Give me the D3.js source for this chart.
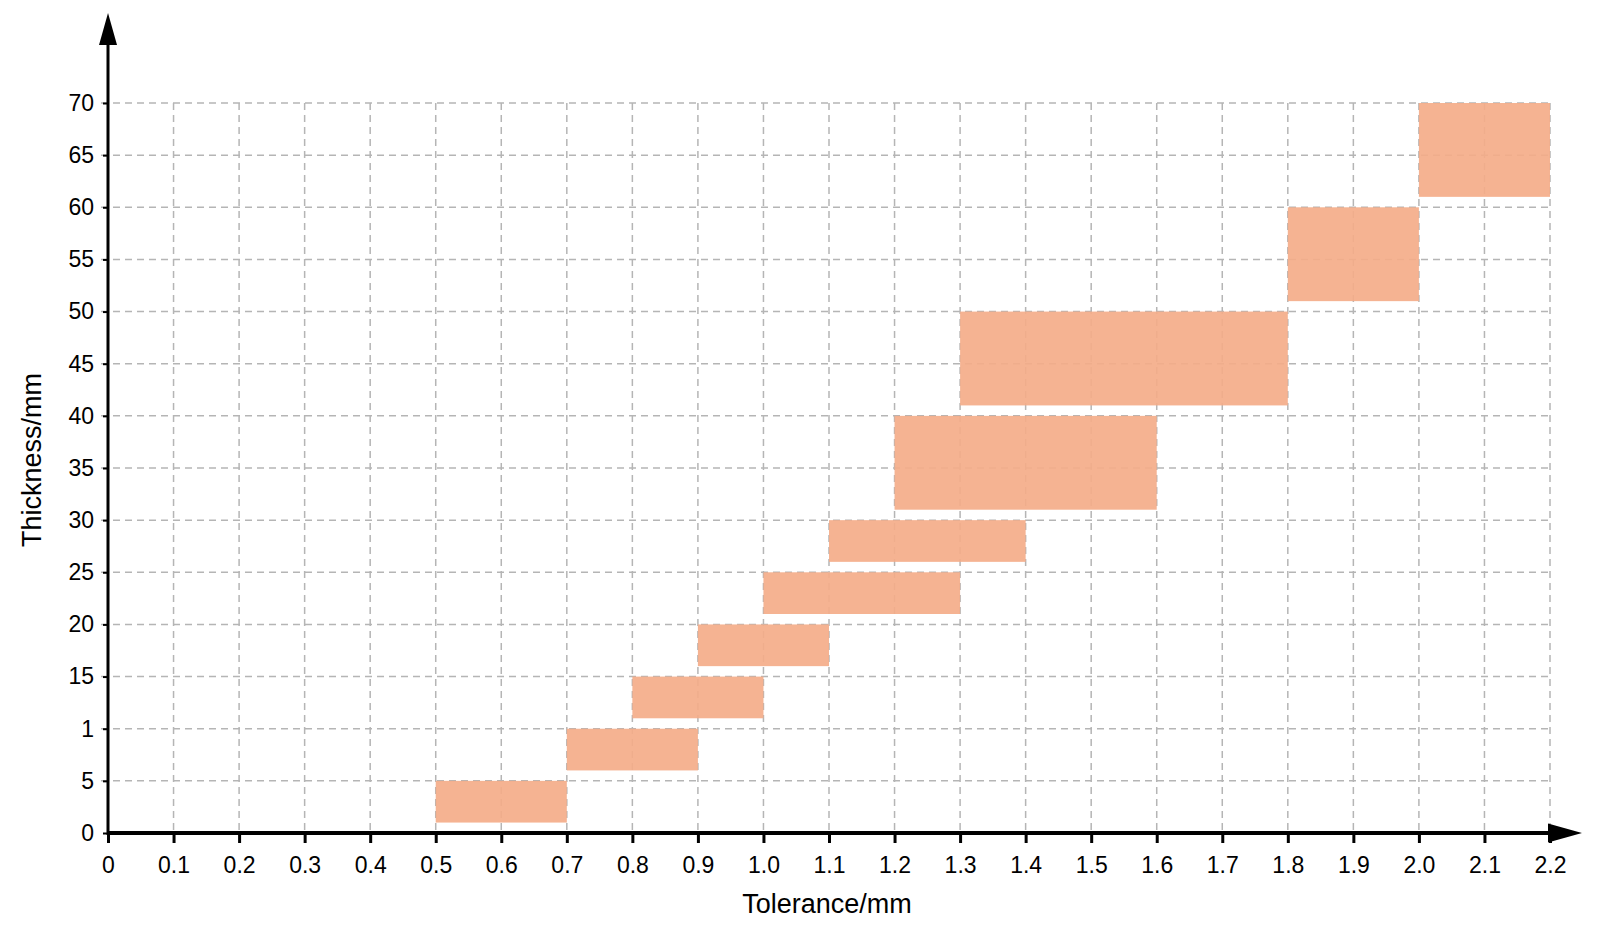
<!DOCTYPE html>
<html>
  <head>
    <meta charset="utf-8">
    <style>
      body { margin: 0; background: #fff; }
      svg { display: block; }
      text { font-family: "Liberation Sans", Arial, sans-serif; fill: #000; }
    </style>
    <script src="https://cdn.jsdelivr.net/npm/d3@7"></script>
  </head>
  <body>
    <div id="chart"></div>
    <script>
      // thickness bands vs tolerance
      var tolFrom = [0.5, 0.7, 0.8, 0.9, 1.0, 1.1, 1.2, 1.3, 1.8, 2.0];
      var tolTo   = [0.7, 0.9, 1.0, 1.1, 1.3, 1.4, 1.6, 1.8, 2.0, 2.2];
      var thickLow  = [1, 6, 11, 16, 21, 26, 31, 41, 51, 61];
      var thickHigh = [5, 10, 15, 20, 25, 30, 40, 50, 60, 70];

      var xTicks = [0, 0.1, 0.2, 0.3, 0.4, 0.5, 0.6, 0.7, 0.8, 0.9, 1.0, 1.1,
                    1.2, 1.3, 1.4, 1.5, 1.6, 1.7, 1.8, 1.9, 2.0, 2.1, 2.2];
      var xTickLabels = ["0", "0.1", "0.2", "0.3", "0.4", "0.5", "0.6", "0.7", "0.8", "0.9", "1.0", "1.1",
                         "1.2", "1.3", "1.4", "1.5", "1.6", "1.7", "1.8", "1.9", "2.0", "2.1", "2.2"];
      var yTicks = [0, 5, 10, 15, 20, 25, 30, 35, 40, 45, 50, 55, 60, 65, 70];
      var yTickLabels = ["0", "5", "1", "15", "20", "25", "30", "35", "40", "45", "50", "55", "60", "65", "70"];

      var width = 1600, height = 930;

      var x = d3.scaleLinear().domain([0, 2.2]).range([108, 1550]);
      var y = d3.scaleLinear().domain([0, 70]).range([833, 103]);

      var svg = d3.select("#chart").append("svg")
        .attr("width", width)
        .attr("height", height);

      // grid
      var grid = svg.append("g")
        .attr("stroke", "#b5b5b5")
        .attr("stroke-width", 1.5)
        .attr("stroke-dasharray", "7,5");

      grid.selectAll("line.v")
        .data(xTicks.slice(1))
        .enter().append("line")
        .attr("class", "v")
        .attr("x1", function(d) { return x(d); })
        .attr("x2", function(d) { return x(d); })
        .attr("y1", y(70))
        .attr("y2", y(0));

      grid.selectAll("line.h")
        .data(yTicks.slice(1))
        .enter().append("line")
        .attr("class", "h")
        .attr("x1", 101)
        .attr("x2", x(2.2))
        .attr("y1", function(d) { return y(d); })
        .attr("y2", function(d) { return y(d); });

      // bands
      svg.append("g").selectAll("rect")
        .data(tolFrom)
        .enter().append("rect")
        .attr("x", function(d) { return x(d); })
        .attr("width", function(d, i) { return x(tolTo[i]) - x(d); })
        .attr("y", function(d, i) { return y(thickHigh[i]); })
        .attr("height", function(d, i) { return y(thickLow[i]) - y(thickHigh[i]); })
        .attr("fill", "#f4ad89")
        .attr("fill-opacity", 0.92);

      // x axis ticks + labels
      var xAxis = d3.axisBottom(x)
        .tickValues(xTicks)
        .tickFormat(function(d, i) { return xTickLabels[i]; })
        .tickSize(10)
        .tickPadding(14);

      var gx = svg.append("g")
        .attr("transform", "translate(0," + y(0) + ")")
        .call(xAxis);
      gx.select(".domain").remove();
      gx.selectAll(".tick line").attr("stroke", "#000").attr("stroke-width", 3);
      gx.selectAll(".tick text")
        .style("font-size", "23px")
        .style("font-family", "Liberation Sans, Arial, sans-serif")
        .attr("fill", "#000");

      // y axis ticks + labels
      var yAxis = d3.axisLeft(y)
        .tickValues(yTicks)
        .tickFormat(function(d, i) { return yTickLabels[i]; })
        .tickSize(5)
        .tickPadding(9);

      var gy = svg.append("g")
        .attr("transform", "translate(" + x(0) + ",0)")
        .call(yAxis);
      gy.select(".domain").remove();
      gy.selectAll(".tick line").attr("stroke", "#000").attr("stroke-width", 2);
      gy.selectAll(".tick text")
        .style("font-size", "23px")
        .style("font-family", "Liberation Sans, Arial, sans-serif")
        .attr("fill", "#000");

      // axis lines with arrows
      svg.append("line")
        .attr("x1", x(0)).attr("x2", 1548)
        .attr("y1", y(0)).attr("y2", y(0))
        .attr("stroke", "#000").attr("stroke-width", 4);
      svg.append("path")
        .attr("d", "M1548," + (y(0) - 9.5) + "L1582," + y(0) + "L1548," + (y(0) + 9.5) + "Z")
        .attr("fill", "#000");

      svg.append("line")
        .attr("x1", x(0)).attr("x2", x(0))
        .attr("y1", y(0) + 2).attr("y2", 45)
        .attr("stroke", "#000").attr("stroke-width", 3);
      svg.append("path")
        .attr("d", "M" + (x(0) - 9) + ",45L" + x(0) + ",13L" + (x(0) + 9) + ",45Z")
        .attr("fill", "#000");

      // titles
      svg.append("text")
        .attr("x", 827)
        .attr("y", 913)
        .attr("text-anchor", "middle")
        .style("font-size", "27px")
        .text("Tolerance/mm");

      svg.append("text")
        .attr("transform", "translate(41,460) rotate(-90)")
        .attr("text-anchor", "middle")
        .style("font-size", "27px")
        .text("Thickness/mm");
    </script>
  </body>
</html>
